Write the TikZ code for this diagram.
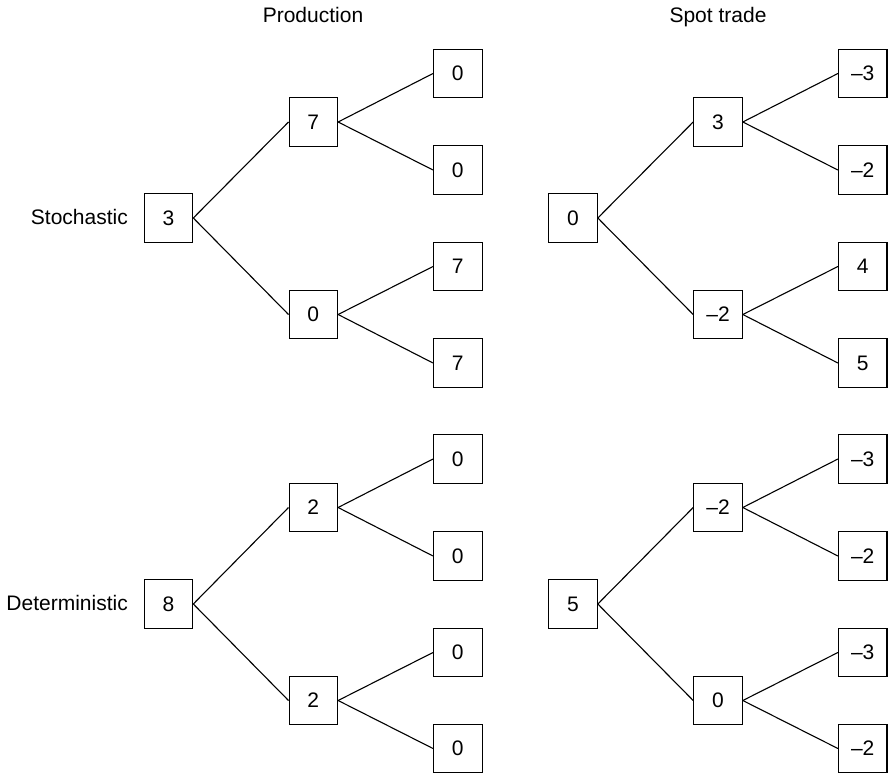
\documentclass[tikz,border=0pt]{standalone}
\usepackage{fontspec}
\setmainfont{Liberation Sans}
\begin{document}
\begin{tikzpicture}[x=1pt,y=-1pt,
  valbox/.style={draw, line width=1.1pt, minimum width=48.5pt, minimum height=48.5pt, inner sep=0pt, font=\fontsize{21}{25}\selectfont},
  lbl/.style={inner sep=0pt, font=\fontsize{21}{25}\selectfont},
  edge/.style={line width=1.1pt}]
\useasboundingbox (0,0) rectangle (889,773);
% titles
\node[lbl, anchor=base] (tprod) at (313,23) {Production};
\node[lbl, anchor=base] (tspot) at (718,23) {Spot trade};
% row labels
\node[lbl, anchor=east] (lsto) at (128,217) {Stochastic};
\node[lbl, anchor=east] (ldet) at (128,603) {Deterministic};
% Stochastic production
\node[valbox] (sp0) at (168.5,218) {3};
\node[valbox] (sp1) at (313.3,122) {7};
\node[valbox] (sp2) at (313.3,314.5) {0};
\node[valbox] (sp11) at (457.8,73.5) {0};
\node[valbox] (sp12) at (457.8,170) {0};
\node[valbox] (sp21) at (457.8,266.5) {7};
\node[valbox] (sp22) at (457.8,363) {7};
% Stochastic spot trade
\node[valbox] (ss0) at (573,218) {0};
\node[valbox] (ss1) at (718,122) {3};
\node[valbox] (ss2) at (718,314.5) {\textendash2};
\node[valbox] (ss11) at (862.7,73.5) {\textendash3};
\node[valbox] (ss12) at (862.7,170) {\textendash2};
\node[valbox] (ss21) at (862.7,266.5) {4};
\node[valbox] (ss22) at (862.7,363) {5};
% Deterministic production
\node[valbox] (dp0) at (168.5,604) {8};
\node[valbox] (dp1) at (313.3,507.5) {2};
\node[valbox] (dp2) at (313.3,700.5) {2};
\node[valbox] (dp11) at (457.8,459) {0};
\node[valbox] (dp12) at (457.8,556) {0};
\node[valbox] (dp21) at (457.8,652.5) {0};
\node[valbox] (dp22) at (457.8,748.5) {0};
% Deterministic spot trade
\node[valbox] (ds0) at (573,604) {5};
\node[valbox] (ds1) at (718,507.5) {\textendash2};
\node[valbox] (ds2) at (718,700.5) {0};
\node[valbox] (ds11) at (862.7,459) {\textendash3};
\node[valbox] (ds12) at (862.7,556) {\textendash2};
\node[valbox] (ds21) at (862.7,652.5) {\textendash3};
\node[valbox] (ds22) at (862.7,748.5) {\textendash2};
% edges
\foreach \t in {sp,ss,dp,ds}{
  \draw[edge] (\t0.east) -- (\t1.west);
  \draw[edge] (\t0.east) -- (\t2.west);
  \draw[edge] (\t1.east) -- (\t11.west);
  \draw[edge] (\t1.east) -- (\t12.west);
  \draw[edge] (\t2.east) -- (\t21.west);
  \draw[edge] (\t2.east) -- (\t22.west);
}
\end{tikzpicture}
\end{document}
